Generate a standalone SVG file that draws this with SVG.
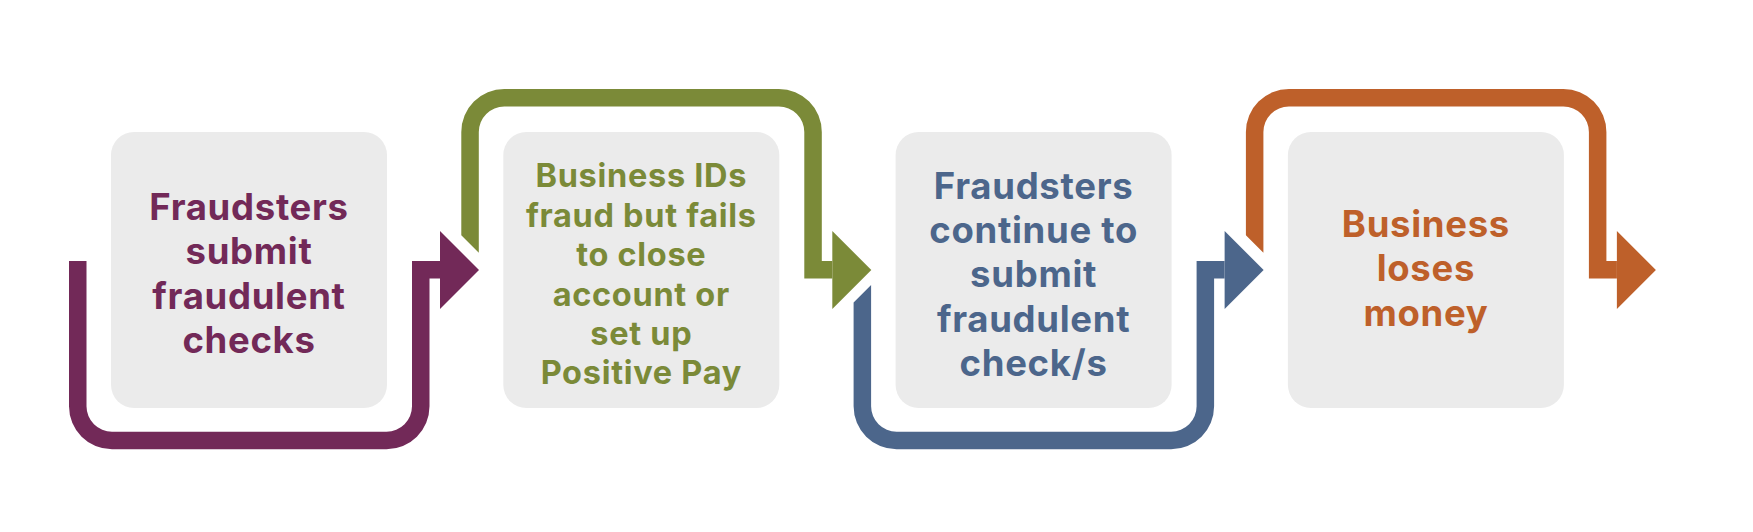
<svg xmlns="http://www.w3.org/2000/svg" width="1753" height="532" viewBox="0 0 1753 532">
<style>
.box{fill:#EBEBEB}
.t{font-family:Inter,"Open Sans","Liberation Sans",sans-serif;font-weight:700;text-anchor:middle;letter-spacing:0.7px}
.t1{font-size:36.5px}
.t2{font-size:32.5px}
.c1{fill:#722958}
.c2{fill:#7B8A38}
.c3{fill:#4C668B}
.c4{fill:#BE602A}
</style>
<rect width="1753" height="532" fill="#FFFFFF"/>
<g id="connectors">
<path class="c1" d="M69 261 V406.3 A43 43 0 0 0 112 449.3 H386.5 A43 43 0 0 0 429.5 406.3 V278.5 H440 V261 H412 V406.3 A25.5 25.5 0 0 1 386.5 431.8 H112 A25.5 25.5 0 0 1 86.5 406.3 V261 Z"/>
<polygon class="c1" points="440,231 479,270 440,309"/>
<path class="c2" d="M461.3 235.3 V132 A43 43 0 0 1 504.3 89 H778.8 A43 43 0 0 1 821.8 132 V261 H832.3 V278.5 H804.3 V132 A25.5 25.5 0 0 0 778.8 106.5 H504.3 A25.5 25.5 0 0 0 478.8 132 V252.8 Z"/>
<polygon class="c2" points="832.3,231 871.3,270 832.3,309"/>
<path class="c3" d="M853.6 302.4 V406.3 A43 43 0 0 0 896.6 449.3 H1171.1 A43 43 0 0 0 1214.1 406.3 V278.5 H1224.6 V261 H1196.6 V406.3 A25.5 25.5 0 0 1 1171.1 431.8 H896.6 A25.5 25.5 0 0 1 871.1 406.3 V284.9 Z"/>
<polygon class="c3" points="1224.6,231 1263.6,270 1224.6,309"/>
<path class="c4" d="M1245.9 235.3 V132 A43 43 0 0 1 1288.9 89 H1563.4 A43 43 0 0 1 1606.4 132 V261 H1616.9 V278.5 H1588.9 V132 A25.5 25.5 0 0 0 1563.4 106.5 H1288.9 A25.5 25.5 0 0 0 1263.4 132 V252.8 Z"/>
<polygon class="c4" points="1616.9,231 1655.9,270 1616.9,309"/>
</g>
<g id="node1">
<rect class="box" x="111" y="132" width="276" height="276" rx="23"/>
<text class="t t1 c1" x="249"><tspan x="249" y="220">Fraudsters</tspan><tspan x="249" y="264">submit</tspan><tspan x="249" y="309">fraudulent</tspan><tspan x="249" y="353">checks</tspan></text>
</g>
<g id="node2">
<rect class="box" x="503.3" y="132" width="276" height="276" rx="23"/>
<text class="t t2 c2" x="641.3"><tspan x="641.3" y="187">Business IDs</tspan><tspan x="641.3" y="227">fraud but fails</tspan><tspan x="641.3" y="266">to close</tspan><tspan x="641.3" y="306">account or</tspan><tspan x="641.3" y="345">set up</tspan><tspan x="641.3" y="384">Positive Pay</tspan></text>
</g>
<g id="node3">
<rect class="box" x="895.6" y="132" width="276" height="276" rx="23"/>
<text class="t t1 c3" x="1033.6"><tspan x="1033.6" y="199">Fraudsters</tspan><tspan x="1033.6" y="243">continue to</tspan><tspan x="1033.6" y="287">submit</tspan><tspan x="1033.6" y="332">fraudulent</tspan><tspan x="1033.6" y="376">check/s</tspan></text>
</g>
<g id="node4">
<rect class="box" x="1287.9" y="132" width="276" height="276" rx="23"/>
<text class="t t1 c4" x="1425.9"><tspan x="1425.9" y="237">Business</tspan><tspan x="1425.9" y="281">loses</tspan><tspan x="1425.9" y="326">money</tspan></text>
</g>
</svg>
